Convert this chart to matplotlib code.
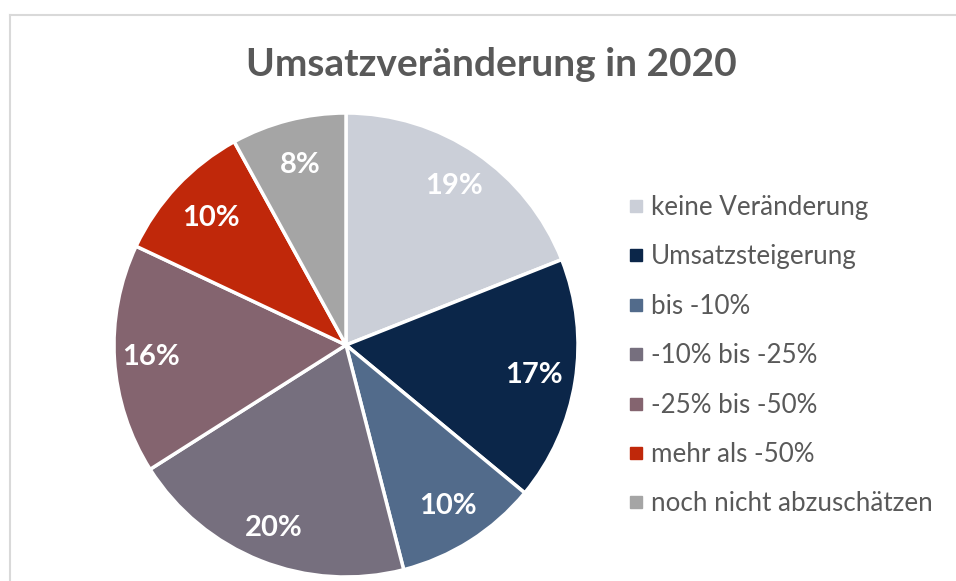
import matplotlib
matplotlib.use("Agg")
import matplotlib.pyplot as plt
from matplotlib.lines import Line2D
import numpy as np

categories = ["keine Veränderung", "Umsatzsteigerung", "bis -10%", "-10% bis -25%",
              "-25% bis -50%", "mehr als -50%", "noch nicht abzuschätzen"]
values = [19, 17, 10, 20, 16, 10, 8]
colors = ["#CBCFD8", "#0B2649", "#526B8B", "#766F7E", "#84646F", "#C0280A", "#A5A5A5"]
title = "Umsatzveränderung in 2020"

W, H = 956, 581
fig = plt.figure(figsize=(W / 100, H / 100), dpi=100)
fig.patch.set_facecolor("white")

# frame
fig.add_artist(Line2D([9.5 / W, 9.5 / W], [0, 1 - 15 / H], transform=fig.transFigure,
                      color="#D9D9D9", lw=1.5))
fig.add_artist(Line2D([9.5 / W, 1], [1 - 15 / H, 1 - 15 / H], transform=fig.transFigure,
                      color="#D9D9D9", lw=1.5))

cx, cy, r = 346, 345, 232
ax = fig.add_axes([(cx - r) / W, (H - cy - r) / H, 2 * r / W, 2 * r / H])
wedges, texts = ax.pie(values, colors=colors, startangle=90, counterclock=False,
                       radius=1, wedgeprops=dict(edgecolor="white", linewidth=2.5))
ax.set_xlim(-1, 1)
ax.set_ylim(-1, 1)
ax.set_aspect("equal")
ax.axis("off")

total = sum(values)
dists = [0.83, 0.82, 0.82, 0.85, 0.84, 0.80, 0.80]
for v, w, d in zip(values, wedges, dists):
    ang = np.deg2rad((w.theta1 + w.theta2) / 2)
    ax.text(d * np.cos(ang), d * np.sin(ang), f"{round(100 * v / total)}%",
            ha="center", va="center", color="white", fontsize=21,
            fontweight="bold", family="Lato")

fig.text(491 / W, 1 - 64 / H, title, ha="center", va="center", fontsize=28,
         fontweight="bold", color="#595959", family="Lato")

handles = [Line2D([], [], marker="s", linestyle="none", markersize=9,
                  markerfacecolor=c, markeredgecolor=c) for c in colors]
leg = fig.legend(handles, categories, loc="upper left",
                 bbox_to_anchor=(628 / W, 1 - 195 / H), frameon=False,
                 prop=dict(family="Lato", size=18.7), labelcolor="#595959",
                 handlelength=0.6, handletextpad=0.28, labelspacing=0.94,
                 borderaxespad=0, borderpad=0)

fig.savefig("out.png", dpi=100, facecolor="white")
